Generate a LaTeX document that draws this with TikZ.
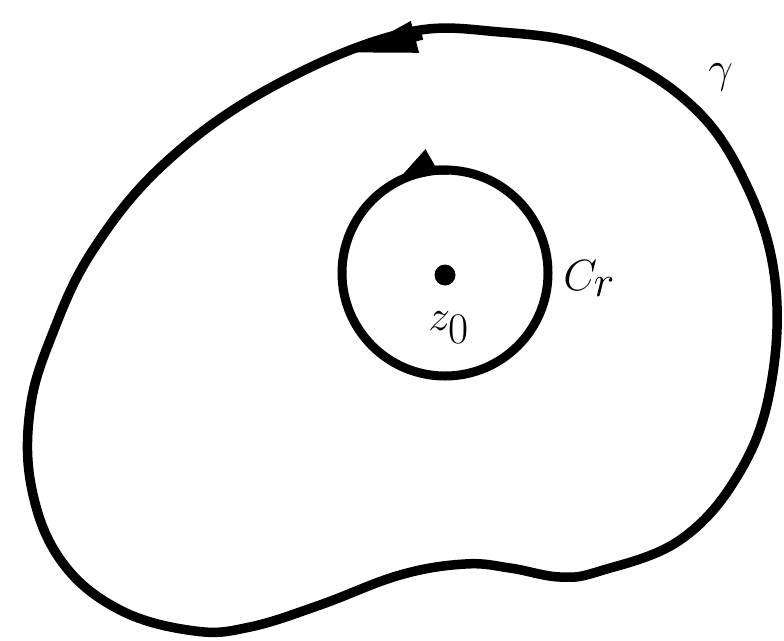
\documentclass[tikz,border=0pt]{standalone}
\usepackage{tikz}
\usetikzlibrary{arrows.meta,positioning}
\tikzset{
  contour/.style={line width=0.19cm, line join=round},
  ring/.style={line width=0.18cm},
  tipline/.style={line width=0.19cm, -{Triangle[length=1.3cm,width=0.6cm]}},
  tiparc/.style={line width=0.18cm, -{Triangle[length=0.9cm,width=0.5cm]}},
  pointdot/.style={circle, fill=black, inner sep=0pt, minimum size=0.42cm},
  lbl/.style={font=\fontsize{44}{48}\selectfont, inner sep=0pt}
}

\begin{document}
\begin{tikzpicture}[x=0.02cm, y=-0.02cm]
\useasboundingbox (0,0) rectangle (784,640);
% outer contour gamma
\draw[contour] plot[smooth cycle, tension=0.65] coordinates {
  (400,34) (500,32) (600,50) (690,104) (745,182) (775,280)
  (770,390) (738,475) (680,540) (600,571) (560,577)
  (510,568) (465,564) (400,575) (320,605) (250,627) (195,631)
  (120,610) (62,562) (32,490) (30,410) (52,335)
  (93,250) (165,163) (270,88)};
\draw[tipline] (422,35) -- (352,53);
% small circle C_r around z_0
\coordinate (z0) at (445,273);
\draw[ring] (z0) circle[radius=103];
\draw[tiparc] ([shift={(-88:103)}]z0) arc[start angle=-88, end angle=-120, radius=103];
\node[pointdot] (dot) at (445,275) {};
% labels
\node[lbl, anchor=base west] (zlab) at (428,330) {$z_0$};
\node[lbl, anchor=base west] (clab) at (563,290) {$C_r$};
\node[lbl, anchor=base west] (glab) at (708,82) {$\gamma$};
\end{tikzpicture}
\end{document}
